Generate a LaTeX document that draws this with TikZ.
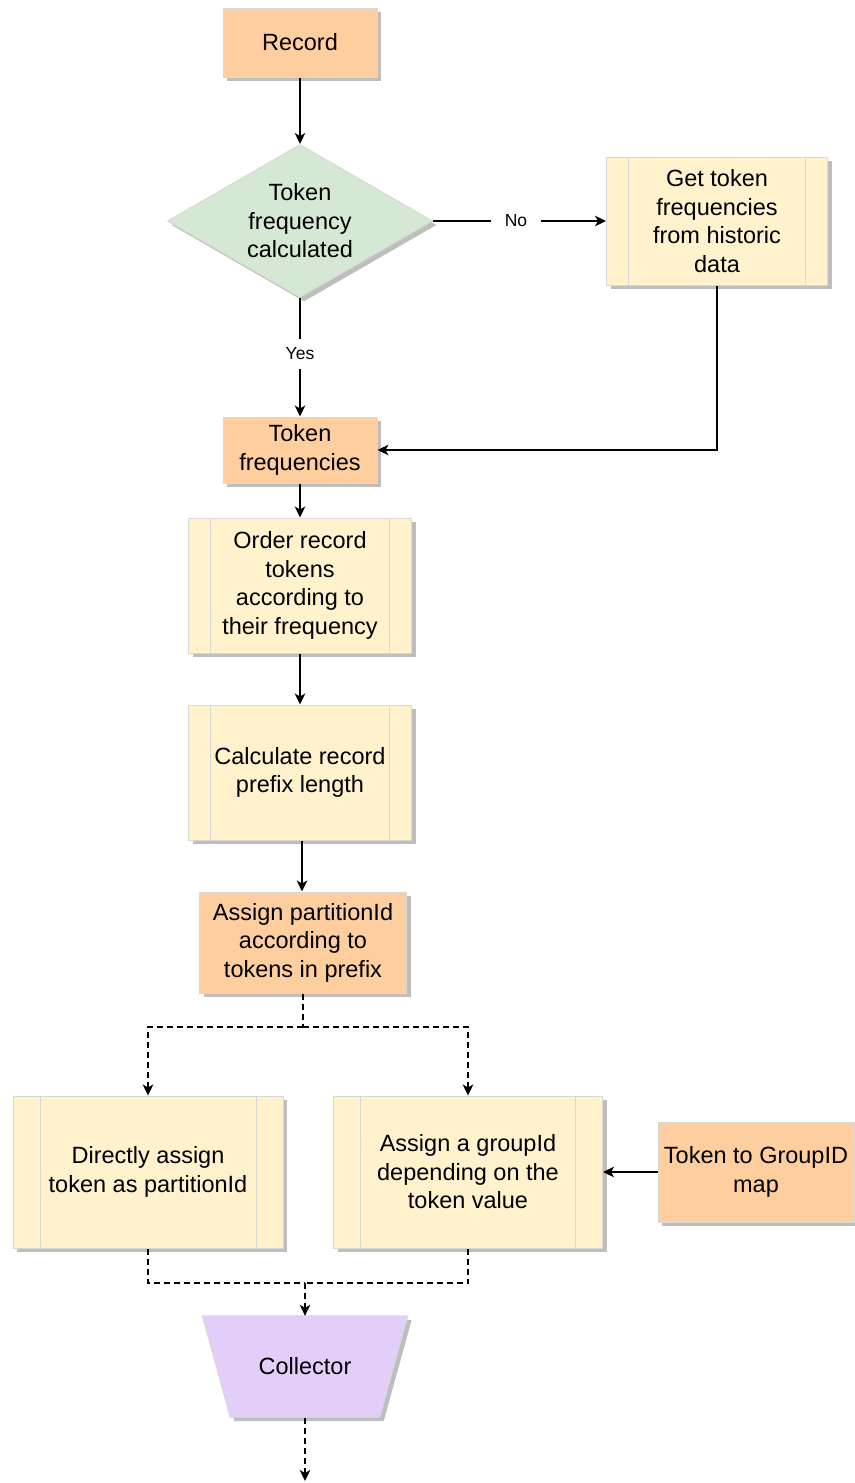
\documentclass[tikz,border=0pt]{standalone}
\usepackage{fontspec}
\setmainfont{Liberation Sans}
\usetikzlibrary{arrows.meta,shapes.geometric,shadows}
\definecolor{peach}{HTML}{FFCE9F}
\definecolor{paleyellow}{HTML}{FFF2CC}
\definecolor{palegreen}{HTML}{D5E8D4}
\definecolor{lavender}{HTML}{E3CEFA}
\definecolor{edgegrey}{HTML}{D8D8D8}
\definecolor{shadowgrey}{HTML}{BEBEBE}
\begin{document}
\begin{tikzpicture}[x=1pt,y=-1pt,
  every node/.style={font=\fontsize{23.5}{28.5}\selectfont, align=center, inner sep=0pt},
  boxshadow/.style={drop shadow={shadow xshift=4pt,shadow yshift=-4pt,fill=shadowgrey,opacity=1}},
  termbox/.style={rectangle, draw=edgegrey, line width=1pt, fill=peach, boxshadow},
  procbox/.style={rectangle, draw=edgegrey, line width=1pt, fill=paleyellow, boxshadow,
    path picture={\draw[edgegrey,line width=1pt]
      ([xshift=#1]path picture bounding box.north west) -- ([xshift=#1]path picture bounding box.south west)
      ([xshift=-#1]path picture bounding box.north east) -- ([xshift=-#1]path picture bounding box.south east);}},
  decbox/.style={diamond, aspect=1.73, draw=edgegrey, line width=1pt, fill=palegreen, boxshadow},
  collbox/.style={rectangle},
  collshape/.style={draw=edgegrey, line width=1pt, fill=lavender, boxshadow},
  tip/.style={-{Stealth[length=11pt,width=10.5pt,inset=3pt]}},
  conn/.style={draw=black, line width=1.6pt},
  dashconn/.style={conn, dash pattern=on 6pt off 4pt},
  edgelabel/.style={font=\fontsize{17.5}{20}\selectfont, fill=white, inner xsep=14pt, inner ysep=9pt}
]
\useasboundingbox (0,0) rectangle (854,1483);

% nodes
\node[termbox, minimum width=154pt, minimum height=69pt] (rec) at (300,42.5) {Record};
\node[decbox, minimum width=265pt, minimum height=153pt] (dec) at (300,221) {Token\\frequency\\calculated};
\node[procbox=22pt, minimum width=221pt, minimum height=128pt] (get) at (717,221) {Get token\\frequencies\\from historic\\data};
\node[termbox, minimum width=154pt, minimum height=66pt] (tf) at (300,450) {Token\\frequencies};
\node[procbox=22pt, minimum width=223pt, minimum height=135pt] (ord) at (300,585.5) {Order record\\tokens\\according to\\their frequency};
\node[procbox=22pt, minimum width=223pt, minimum height=135pt] (calc) at (300,772.5) {Calculate record\\prefix length};
\node[termbox, minimum width=207pt, minimum height=101pt] (part) at (303,942.5) {Assign partitionId\\according to\\tokens in prefix};
\node[procbox=27pt, minimum width=270pt, minimum height=152pt] (direct) at (148,1172) {Directly assign\\token as partitionId};
\node[procbox=27pt, minimum width=269pt, minimum height=152pt] (group) at (468,1172) {Assign a groupId\\depending on the\\token value};
\node[termbox, minimum width=196pt, minimum height=100pt] (map) at (756,1172) {Token to GroupID\\map};

% collector: a trapezoid, wide side on top, drawn round its node
\node[collbox, minimum width=205pt, minimum height=101pt] (coll) at (305,1366.5) {};
\path[collshape] (coll.north west) -- (coll.north east)
  -- ([xshift=-28pt]coll.south east) -- ([xshift=28pt]coll.south west) -- cycle;
\node (colltext) at (coll.center) {Collector};

\coordinate (split) at (303,1027);
\coordinate (merge) at (305,1283);
\coordinate (sinkend) at (305,1481);

% connectors
\draw[conn,tip] (rec) -- (dec);
\draw[conn,tip] (dec.east) -- node[edgelabel, pos=0.48] (nolbl) {No} (get.west);
\draw[conn,tip] (dec.south) -- node[edgelabel, pos=0.47] (yeslbl) {Yes} (tf.north);
\draw[conn,tip] (get.south) |- (tf.east);
\draw[conn,tip] (tf) -- (ord);
\draw[conn,tip] (ord) -- (calc);
\draw[conn,tip] ([xshift=2pt]calc.south) -- ([xshift=-1pt]part.north);
\draw[dashconn] (part.south) -- (split);
\draw[dashconn,tip] (split) -| (direct.north);
\draw[dashconn,tip] (split) -| (group.north);
\draw[conn,tip] (map) -- (group);
\draw[dashconn] (direct.south) |- (merge);
\draw[dashconn] (group.south) |- (merge);
\draw[dashconn,tip] (merge) -- (coll.north);
\draw[dashconn,tip] ([yshift=-1pt]coll.south) -- (sinkend);
\end{tikzpicture}
\end{document}
